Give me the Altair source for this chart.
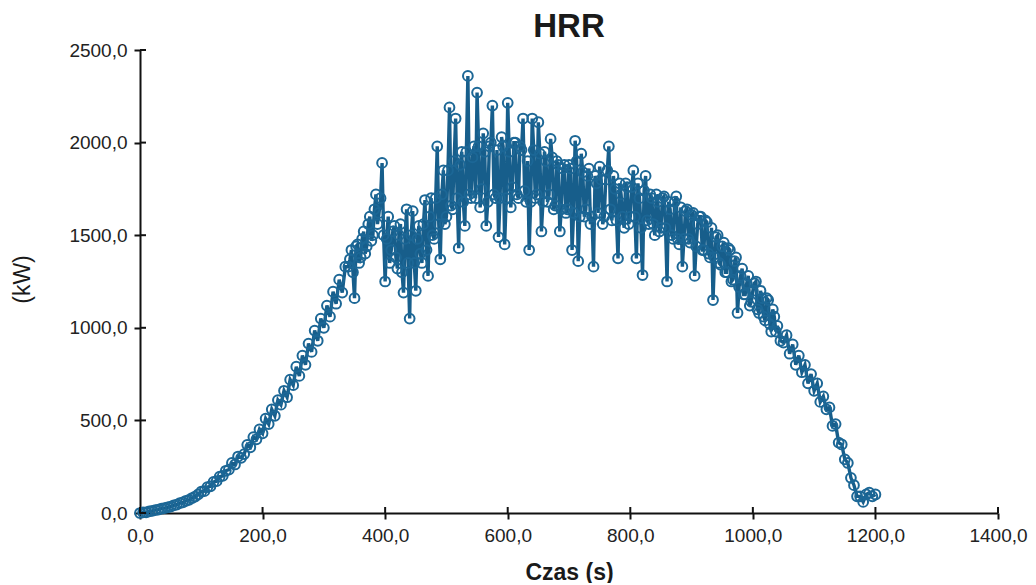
import altair as alt
import pandas as pd

# HRR readings (kW)
# growth phase, every 5 s from 0 s
rise_start = 0
rise_kw = [0, 3, 4, 9, 11, 16, 18, 23, 26, 31,
           35, 41, 45, 53, 57, 66, 71, 81, 89, 101,
           115, 118, 140, 144, 168, 172, 196, 200, 228, 234,
           270, 262, 305, 298, 318, 368, 355, 410, 398, 452,
           430, 510, 480, 560, 525, 610, 585, 660, 625, 720,
           690, 790, 740, 850, 800, 915, 870, 985, 930, 1050,
           1000, 1120, 1060, 1195, 1130, 1260, 1190, 1330]

# fully developed phase, every 5 s from 340 s (spikes)
fire_start = 340
fire_kw = [1330, 1420, 1160, 1450, 1380, 1520, 1440, 1600, 1500, 1720,
           1620, 1890, 1250, 1600, 1420, 1550, 1320, 1560, 1190, 1640,
           1050, 1630, 1200, 1550, 1350, 1690, 1280, 1700, 1480, 1980,
           1370, 1850, 1600, 2190, 1640, 2130, 1430, 1950, 1550, 2360,
           1700, 1980, 2270, 1650, 2050, 1550, 1980, 2200, 1700, 1490,
           2030, 1450, 2215, 1650, 2000, 1720, 1980, 2130, 1680, 1420,
           2130, 1700, 2110, 1520, 1950, 1680, 2020, 1640, 1900, 1520,
           1860, 1620, 1880, 1420, 2010, 1360, 1940, 1600, 1820, 1560,
           1330, 1780, 1870, 1560, 1800, 1980, 1580, 1750, 1375, 1720,
           1540, 1760, 1600, 1850, 1375, 1700, 1285, 1820, 1560, 1700,
           1500, 1680, 1540, 1710, 1250, 1640, 1480, 1710, 1450, 1330,
           1630, 1480, 1610, 1280, 1560, 1600, 1420, 1570, 1380, 1150,
           1490, 1350, 1440, 1300, 1430, 1250, 1360, 1080, 1280, 1180,
           1240, 1120, 1200, 1250, 1080, 1160, 1040, 1150, 980, 1060]

# intermediate readings of the same phase, every 5 s from 342.5 s (core band)
core_start = 342.5
core_kw = [1370, 1300, 1440, 1350, 1480, 1400, 1560, 1470, 1640, 1560,
           1700, 1500, 1480, 1350, 1520, 1380, 1500, 1300, 1480, 1350,
           1500, 1350, 1480, 1400, 1560, 1420, 1600, 1500, 1700, 1560,
           1720, 1560, 1850, 1660, 1900, 1700, 1880, 1680, 1950, 1720,
           1920, 1700, 1980, 1750, 1950, 1680, 2000, 1720, 1960, 1700,
           1980, 1700, 1950, 1760, 2000, 1700, 1960, 1740, 1900, 1680,
           1960, 1720, 1940, 1680, 1900, 1720, 1920, 1660, 1880, 1640,
           1880, 1640, 1860, 1620, 1900, 1600, 1840, 1640, 1860, 1600,
           1820, 1620, 1800, 1600, 1850, 1640, 1820, 1580, 1780, 1600,
           1780, 1560, 1760, 1600, 1780, 1540, 1740, 1580, 1720, 1560,
           1720, 1520, 1700, 1540, 1680, 1500, 1680, 1480, 1650, 1480,
           1640, 1460, 1620, 1440, 1600, 1420, 1580, 1400, 1540, 1380,
           1500, 1340, 1460, 1300, 1420, 1260, 1380, 1220, 1320, 1180,
           1280, 1140, 1240, 1100, 1200, 1060, 1160, 1020, 1100, 980]

# decay phase, every 5 s from 1040 s
decay_start = 1040
decay_kw = [1010, 930, 920, 960, 860, 910, 800, 850, 760, 800,
            700, 750, 660, 700, 600, 630, 560, 570, 470, 480,
            380, 370, 290, 270, 190, 150, 90, 90, 60, 100,
            110, 90, 100]

step_s = 5
x_ticks = [0, 200, 400, 600, 800, 1000, 1200, 1400]
y_ticks = [0, 500, 1000, 1500, 2000, 2500]
chart_title = ["HRR"]

rows = []
for start, vals in ((rise_start, rise_kw), (fire_start, fire_kw),
                    (core_start, core_kw), (decay_start, decay_kw)):
    for i, v in enumerate(vals):
        rows.append({"t": start + step_s * i, "hrr": v})
df = pd.DataFrame(rows).sort_values("t").reset_index(drop=True)

FONT = "Liberation Sans"
BLUE = "#175e8b"
INK = "#111111"
label_expr = "replace(format(datum.value, '.1f'), '.', ',')"

x_scale = alt.Scale(domain=[0, 1400], nice=False)
y_scale = alt.Scale(domain=[0, 2500], nice=False)

x_enc = alt.X("t:Q", scale=x_scale,
              axis=alt.Axis(values=x_ticks, labelExpr=label_expr, title="Czas (s)",
                            labelFlush=False,
                            titleY=66, titleBaseline="alphabetic",
                            titleFontSize=23, titleFontWeight="bold"))
y_enc = alt.Y("hrr:Q", scale=y_scale,
              axis=alt.Axis(values=y_ticks, labelExpr=label_expr, title="(kW)",
                            labelFlush=False,
                            titleX=-118, titleY=229, titleAlign="center",
                            titleBaseline="middle", titleAngle=-90,
                            titleFontSize=23, titleFontWeight="normal"))

base = alt.Chart(df)
line = base.mark_line(color=BLUE, strokeWidth=3.4).encode(x=x_enc, y=y_enc)
pts = base.mark_point(shape="circle", filled=False, size=95, strokeWidth=2,
                      color="#1c6796", opacity=1).encode(x="t:Q", y="hrr:Q")

# inner halves of the tick marks (the reference ticks cross the axis lines)
xt_in = alt.Chart(pd.DataFrame({"v": x_ticks})).mark_rule(
    color=INK, strokeWidth=2).encode(x=alt.X("v:Q", scale=x_scale),
                                     y=alt.value(463), y2=alt.value(457))
yt_in = alt.Chart(pd.DataFrame({"v": y_ticks})).mark_rule(
    color=INK, strokeWidth=2).encode(y=alt.Y("v:Q", scale=y_scale),
                                     x=alt.value(0), x2=alt.value(6))

title_txt = alt.Chart(pd.DataFrame({"label": chart_title})).mark_text(
    font=FONT, fontSize=33, fontWeight="bold", color="#1a1a1a",
    baseline="alphabetic", align="center"
).encode(text="label:N", x=alt.value(429), y=alt.value(-13))

chart = (line + pts + xt_in + yt_in + title_txt).properties(
    width=858, height=463,
    autosize=alt.AutoSizeParams(type="none"),
    padding={"left": 132, "top": 42, "right": 30, "bottom": 70},
).configure_view(stroke=None).configure_axis(
    grid=False, domainColor=INK, domainWidth=2, tickColor=INK, tickWidth=2,
    tickSize=6, labelFont=FONT, labelFontSize=19, labelColor="#222",
    labelPadding=7, titleFont=FONT, titleColor="#1a1a1a"
)

chart.save("out.html", embed_options={"renderer": "svg", "actions": False})
